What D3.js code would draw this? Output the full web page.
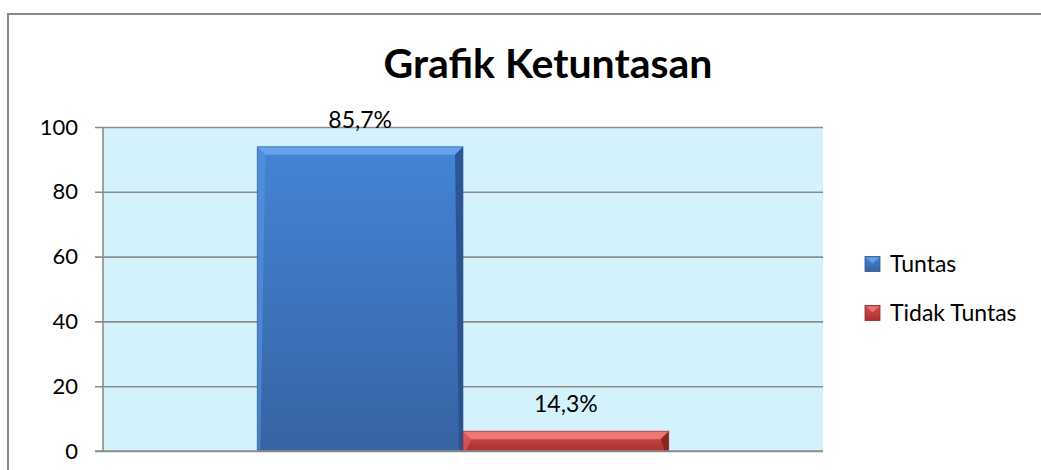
<!DOCTYPE html>
<html><head><meta charset="utf-8">
<script src="https://cdn.jsdelivr.net/npm/d3@7"></script>
<style>html,body{margin:0;padding:0;background:#fff;}svg{display:block;}</style>
</head><body>
<svg id="c" width="1041" height="470"></svg>
<script>
const title = "Grafik Ketuntasan";
const categories = ["Ketuntasan"];
const seriesNames = ["Tuntas", "Tidak Tuntas"];
const seriesValues = [93.9, 6.1];
const dataLabels = ["85,7%", "14,3%"];
const yTicks = [0, 20, 40, 60, 80, 100];

const svg = d3.select("#c");
const font = "Lato, 'Open Sans', sans-serif";
const m = {left: 103, right: 823, top: 127, bottom: 451};

svg.append("rect").attr("x", 8).attr("y", 14).attr("width", 1100).attr("height", 600)
  .attr("fill", "#fff").attr("stroke", "#8a8a8a").attr("stroke-width", 2);

const defs = svg.append("defs");
function grad(id, stops) {
  const g = defs.append("linearGradient").attr("id", id).attr("x1", 0).attr("y1", 0).attr("x2", 0).attr("y2", 1);
  stops.forEach(s => g.append("stop").attr("offset", s[0]).attr("stop-color", s[1]));
}
grad("gBlue", [[0, "#4384d6"], [1, "#3763a3"]]);
grad("gRed", [[0, "#d65050"], [1, "#a8302e"]]);

const catW = m.right - m.left;
const x0 = d3.scaleBand().domain(categories).range([m.left, m.right]);
const groupW = x0.bandwidth() / 1.75; // gap width 75%
const x1 = d3.scaleBand().domain(seriesNames).range([0, groupW]);
const y = d3.scaleLinear().domain([0, 100]).range([m.bottom, m.top]);

svg.append("rect").attr("x", m.left).attr("y", m.top).attr("width", catW).attr("height", m.bottom - m.top)
  .attr("fill", "#d3f2fc");

const yAxis = d3.axisLeft(y).tickValues(yTicks).tickSize(-catW).tickFormat(d3.format("d")).tickPadding(25);
const ga = svg.append("g").attr("transform", `translate(${m.left},0)`).call(yAxis);
ga.select(".domain").remove();
ga.selectAll(".tick line").attr("stroke", "#8c8c8c").attr("stroke-width", 1.6).attr("x1", -8);
ga.selectAll(".tick text").attr("font-family", font).attr("font-size", 22).attr("fill", "#000");
svg.append("line").attr("x1", m.left).attr("x2", m.left).attr("y1", m.top).attr("y2", m.bottom)
  .attr("stroke", "#8c8c8c").attr("stroke-width", 1.6);

const colors = [
  {fill: "url(#gBlue)", top: "#6ba6ee", right: "#284f88", left: "#5a95de", edge: "#2f5590"},
  {fill: "url(#gRed)", top: "#f47a7a", right: "#7e2322", left: "#e06464", edge: "#8c2a28"}
];
categories.forEach(cat => {
  const groupX = x0(cat) + (x0.bandwidth() - groupW) / 2;
  seriesNames.forEach((s, i) => {
    const bx = groupX + x1(s), bw = x1.bandwidth();
    const by = y(seriesValues[i]), bh = y(0) - by;
    const c = colors[i];
    const g = svg.append("g");
    g.append("rect").attr("x", bx).attr("y", by).attr("width", bw).attr("height", bh).attr("fill", c.fill);
    const bv = Math.min(8, bh / 2);
    g.append("polygon").attr("points", `${bx},${by} ${bx + bw},${by} ${bx + bw - bv},${by + bv} ${bx + bv},${by + bv}`)
      .attr("fill", c.top).attr("opacity", 0.9);
    g.append("polygon").attr("points", `${bx + bw},${by} ${bx + bw},${by + bh} ${bx + bw - 4},${by + bh} ${bx + bw - bv},${by + bv}`)
      .attr("fill", c.right).attr("opacity", 0.85);
    g.append("polygon").attr("points", `${bx},${by} ${bx + bv},${by + bv} ${bx + 3},${by + bh} ${bx},${by + bh}`)
      .attr("fill", c.left).attr("opacity", 0.6);
    g.append("rect").attr("x", bx).attr("y", by).attr("width", bw).attr("height", bh)
      .attr("fill", "none").attr("stroke", c.edge).attr("stroke-width", 1).attr("opacity", 0.6);
    svg.append("text").attr("x", bx + bw / 2).attr("y", by - 19).attr("text-anchor", "middle")
      .attr("font-family", font).attr("font-size", 23).attr("fill", "#000").text(dataLabels[i]);
  });
});

svg.append("line").attr("x1", m.left - 8).attr("x2", m.right).attr("y1", m.bottom).attr("y2", m.bottom)
  .attr("stroke", "#8c8c8c").attr("stroke-width", 1.6);

svg.append("text").attr("x", 548).attr("y", 78).attr("text-anchor", "middle")
  .attr("font-family", font).attr("font-weight", "bold").attr("font-size", 41).attr("fill", "#000").text(title);

const legendY = [264, 313];
seriesNames.forEach((s, i) => {
  const lg = svg.append("g").attr("transform", `translate(865,${legendY[i] - 7.5})`);
  lg.append("rect").attr("width", 15).attr("height", 15).attr("fill", i === 0 ? "url(#gBlue)" : "url(#gRed)")
    .attr("stroke", colors[i].edge).attr("stroke-width", 0.8);
  lg.append("polygon").attr("points", "1,1 14,1 7.5,7").attr("fill", colors[i].top).attr("opacity", 0.8);
  lg.append("text").attr("x", 25).attr("y", 7.5).attr("dy", "0.35em").attr("font-family", font)
    .attr("font-size", 23).attr("fill", "#000").text(s);
});
</script>
</body></html>
